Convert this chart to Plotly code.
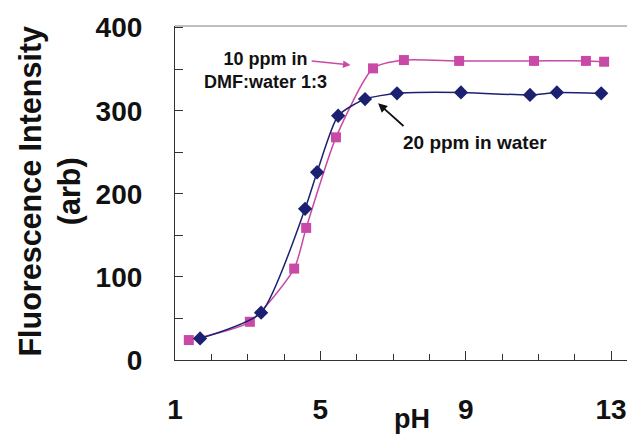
import plotly.graph_objects as go

ph_dmf = [1.38, 3.06, 4.28, 4.61, 5.43, 6.45, 7.30, 8.82, 10.88, 12.31, 12.81]
int_dmf = [24, 46, 110, 159, 268, 351, 361, 360, 360, 360, 359]

ph_water = [1.69, 3.37, 4.58, 4.91, 5.49, 6.23, 7.11, 8.87, 10.77, 11.51, 12.73]
int_water = [26, 57, 182, 226, 294, 314, 321, 322, 319, 322, 321]

x_ticks = [1, 5, 9, 13]
y_ticks = [0, 100, 200, 300, 400]

PINK = "#c94aa6"
NAVY = "#1b2170"
FONT = "Liberation Sans, Arial, sans-serif"

fig = go.Figure()
fig.add_trace(go.Scatter(
    x=ph_dmf, y=int_dmf, mode="lines+markers",
    line=dict(color=PINK, width=1.5, shape="spline", smoothing=0.6),
    marker=dict(symbol="square", size=10, color=PINK),
    name="10 ppm in DMF:water 1:3"))
fig.add_trace(go.Scatter(
    x=ph_water, y=int_water, mode="lines+markers",
    line=dict(color=NAVY, width=1.5, shape="spline", smoothing=0.6),
    marker=dict(symbol="diamond", size=11, color=NAVY),
    name="20 ppm in water"))

# labels
fig.add_annotation(x=3.5, y=349, xref="x", yref="y", showarrow=False,
                   text="<b>10 ppm in</b><br><b>DMF:water 1:3</b>",
                   font=dict(family=FONT, size=18, color="#111"),
                   align="center")
fig.add_annotation(x=9.26, y=262, xref="x", yref="y", showarrow=False,
                   text="<b>20 ppm in water</b>",
                   font=dict(family=FONT, size=19, color="#111"))
# arrows
fig.add_annotation(x=5.83, y=355, ax=4.72, ay=360, xref="x", yref="y",
                   axref="x", ayref="y", text="", showarrow=True,
                   arrowhead=2, arrowsize=1, arrowwidth=1.5, arrowcolor=PINK)
fig.add_annotation(x=6.59, y=309, ax=7.33, ay=280, xref="x", yref="y",
                   axref="x", ayref="y", text="", showarrow=True,
                   arrowhead=2, arrowsize=1, arrowwidth=1.8, arrowcolor="#111")
# x-axis title
fig.add_annotation(x=0.515, y=-0.2275, xref="paper", yref="paper", showarrow=False,
                   text="<b>pH</b>", yanchor="bottom",
                   font=dict(family=FONT, size=27, color="#111"))
# y-axis title
fig.add_annotation(x=-0.2717, y=0.5045, xref="paper", yref="paper", showarrow=False,
                   text="<b>Fluorescence Intensity</b><br><b>(arb)</b>",
                   textangle=-90, xanchor="center", yanchor="middle",
                   font=dict(family=FONT, size=30.5, color="#111"))

fig.update_layout(
    width=627, height=428,
    margin=dict(l=167, r=0, t=18, b=76, autoexpand=False),
    paper_bgcolor="white", plot_bgcolor="white",
    showlegend=False,
    font=dict(family=FONT, color="#111"),
    xaxis=dict(
        range=[1, 13.66], tickvals=x_ticks,
        ticktext=[f"<b>{v}</b>" for v in x_ticks],
        ticks="inside", ticklen=9, tickwidth=1.2, tickcolor="#333",
        minor=dict(dtick=1, tick0=1, ticks="inside", ticklen=6, tickcolor="#333", tickwidth=1),
        showline=True, linecolor="#333", linewidth=1.2, mirror=False,
        showgrid=False, zeroline=False, automargin=False,
        tickfont=dict(size=28, family=FONT, color="#111"),
        ticklabelstandoff=24,
    ),
    yaxis=dict(
        range=[0, 402], tickvals=y_ticks,
        ticktext=[f"<b>{v}</b>" for v in y_ticks],
        ticks="inside", ticklen=8, tickwidth=1.2, tickcolor="#333",
        minor=dict(dtick=50, tick0=0, ticks="inside", ticklen=8, tickcolor="#333", tickwidth=1.2),
        showline=True, linecolor="#333", linewidth=1.2,
        showgrid=False, zeroline=False, automargin=False,
        tickfont=dict(size=28, family=FONT, color="#111"),
        ticklabelstandoff=26,
    ),
)
# grey frame line at top
fig.add_shape(type="line", xref="paper", yref="paper", x0=0, x1=1, y0=1, y1=1,
              line=dict(color="#aaaaaa", width=1.5))

fig.write_html("out.html")
